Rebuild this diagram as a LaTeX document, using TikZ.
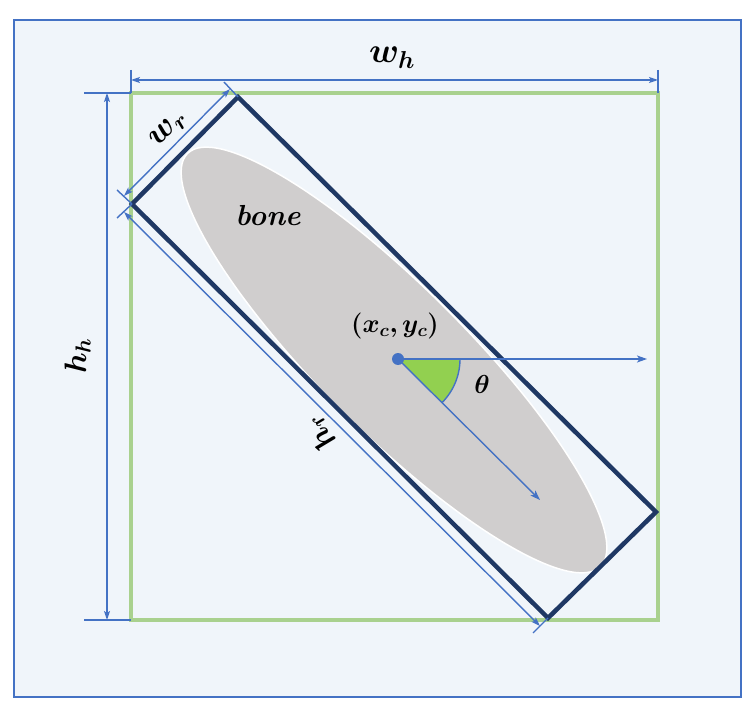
\documentclass[tikz,border=0pt]{standalone}
\usepackage{fix-cm}
\usepackage{amsmath,bm}
\usetikzlibrary{arrows.meta,angles}
\definecolor{bgfill}{RGB}{240,245,250}
\definecolor{frameblue}{RGB}{68,114,196}
\definecolor{dimblue}{RGB}{68,114,196}
\definecolor{boxgreen}{RGB}{169,209,142}
\definecolor{navy}{RGB}{31,56,100}
\definecolor{bonegray}{RGB}{208,206,206}
\definecolor{anglegreen}{RGB}{146,208,80}
\begin{document}
\begin{tikzpicture}[x=1pt,y=-1pt,
  dimline/.style={draw=dimblue,line width=1.4pt},
  dimarrow/.style={dimline,{Stealth[length=9pt,width=6pt,inset=2pt]}-{Stealth[length=9pt,width=6pt,inset=2pt]}},
  vecarrow/.style={dimline,-{Stealth[length=10pt,width=7pt,inset=2.5pt]}},
  biglabel/.style={inner sep=0pt,font=\fontsize{33}{40}\selectfont},
  midlabel/.style={inner sep=0pt,font=\fontsize{26}{31}\selectfont},
  bonelabel/.style={inner sep=0pt,font=\fontsize{29}{35}\selectfont\bfseries\itshape}]
\useasboundingbox (0,0) rectangle (755,711);
\fill[white] (0,0) rectangle (755,711);
% frame
\draw[fill=bgfill,draw=frameblue,line width=1.6pt] (14,20) rectangle (741,697);
% horizontal box
\coordinate (G1) at (131,93);
\coordinate (G2) at (658,620);
\draw[boxgreen,line width=4pt] (G1) rectangle (G2);
% bone
\fill[bonegray,draw=white,line width=1.5pt,rotate around={-45:(394,360)}] (394,360) ellipse [x radius=292pt,y radius=73pt];
\node[bonelabel] (bone) at (268,216) {bone};
% rotated box
\coordinate (T) at (238,97);
\coordinate (R) at (656,512);
\coordinate (B) at (548,618);
\coordinate (L) at (132,204);
\draw[navy,line width=4.5pt,line join=miter] (T) -- (R) -- (B) -- (L) -- cycle;
% w_h dimension
\coordinate (whA) at (131,80);
\coordinate (whB) at (658,80);
\coordinate (whA0) at (131,70);
\coordinate (whB0) at (658,70);
\coordinate (G3) at (658,93);
\draw[dimline] (whA0) -- (G1);
\draw[dimline] (whB0) -- (G3);
\draw[dimarrow] (whA) -- (whB);
\node[biglabel,anchor=base,font=\fontsize{35}{42}\selectfont] (lwh) at (392,63) {$\bm{w_h}$};
% h_h dimension
\coordinate (hhA0) at (84,93);
\coordinate (hhB0) at (84,620);
\coordinate (hhA) at (107,93);
\coordinate (hhB) at (107,620);
\coordinate (G4) at (131,620);
\draw[dimline] (hhA0) -- (G1);
\draw[dimline] (hhB0) -- (G4);
\draw[dimarrow] (hhA) -- (hhB);
\node[biglabel,rotate=90,anchor=base,font=\fontsize{31}{37}\selectfont] (lhh) at (86,356) {$\bm{h_h}$};
% w_r dimension
\coordinate (wrT0) at (224,82);
\coordinate (wrL0) at (117,190);
\coordinate (wrT) at (230,89);
\coordinate (wrL) at (124,196);
\draw[dimline] (wrT0) -- (T);
\draw[dimline] (wrL0) -- (L);
\draw[dimarrow] (wrL) -- (wrT);
\node[biglabel,rotate=45] (lwr) at (169,130) {$\bm{w_r}$};
% h_r dimension
\coordinate (hrL0) at (117,218);
\coordinate (hrB0) at (533,633);
\coordinate (hrL) at (124,212);
\coordinate (hrB) at (540,626);
\draw[dimline] (hrL0) -- (L);
\draw[dimline] (hrB0) -- (B);
\draw[dimarrow] (hrL) -- (hrB);
\node[biglabel,rotate=135,font=\fontsize{31}{37}\selectfont] (lhr) at (320,434) {$\bm{h_r}$};
% centre, angle and axes
\coordinate (c) at (398,359);
\coordinate (hx) at (647,359);
\coordinate (dx) at (540,500);
\pic[draw=dimblue,fill=anglegreen,line width=1.4pt,angle radius=62pt] {angle=dx--c--hx};
\draw[vecarrow] (c) -- (hx);
\draw[vecarrow] (c) -- (dx);
\fill[dimblue] (c) circle (6pt);
\node[midlabel] (lc) at (395,326) {$\bm{(x_c,y_c)}$};
\node[midlabel,font=\fontsize{26}{31}\selectfont] (lth) at (482,384) {$\bm{\theta}$};
\end{tikzpicture}
\end{document}
